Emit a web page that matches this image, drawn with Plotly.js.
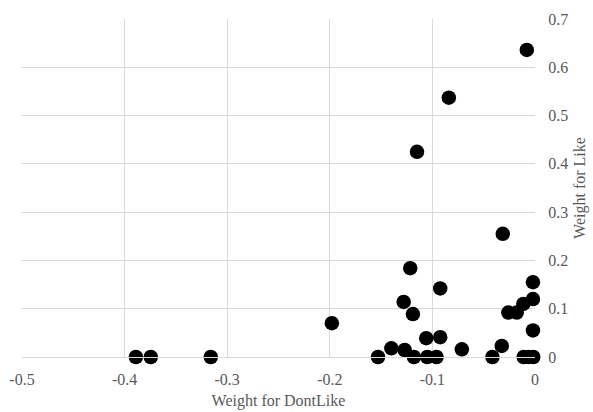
<!DOCTYPE html>
<html>
<head>
<meta charset="utf-8">
<script src="https://cdn.plot.ly/plotly-3.0.1.min.js"></script>
<style>html,body{margin:0;padding:0;background:#fff;}#chart{width:593px;height:412px;}</style>
</head>
<body>
<div id="chart"></div>
<script>
const dontLike = [-0.389, -0.3745, -0.316, -0.198, -0.153, -0.140, -0.127, -0.128, -0.1216, -0.119, -0.118, -0.115,
  -0.106, -0.105, -0.096, -0.0924, -0.0924, -0.084, -0.0713, -0.0415, -0.0324, -0.0314, -0.026, -0.0178, -0.0114,
  -0.011, -0.008, -0.0065, -0.002, -0.002, -0.002, -0.0017];
const like = [0, 0, 0, 0.070, 0, 0.018, 0.0145, 0.114, 0.184, 0.089, 0, 0.425,
  0.039, 0, 0, 0.041, 0.142, 0.537, 0.016, 0, 0.023, 0.255, 0.092, 0.092, 0.110,
  0, 0.636, 0, 0.155, 0.120, 0.055, 0];

const xTicks = [-0.5, -0.4, -0.3, -0.2, -0.1, 0];
const xTickText = ['-0.5', '-0.4', '-0.3', '-0.2', '-0.1', '0'];
const yTicks = [0, 0.1, 0.2, 0.3, 0.4, 0.5, 0.6, 0.7];
const yTickText = ['0', '0.1', '0.2', '0.3', '0.4', '0.5', '0.6', '0.7'];

const font = {family: "'Liberation Serif', 'Times New Roman', serif", size: 16, color: '#595959'};

Plotly.newPlot('chart', [{
  x: dontLike, y: like, type: 'scatter', mode: 'markers',
  marker: {size: 14.5, color: '#000000', line: {width: 0}}, cliponaxis: false, hoverinfo: 'none'
}], {
  width: 593, height: 412,
  margin: {l: 22, r: 58, t: 19, b: 55},
  paper_bgcolor: '#ffffff', plot_bgcolor: '#ffffff',
  font: font,
  showlegend: false,
  xaxis: {
    range: [-0.5, 0], tickvals: xTicks, ticktext: xTickText,
    showgrid: true, gridcolor: '#d9d9d9', gridwidth: 1,
    zeroline: false, showline: true, linecolor: '#d9d9d9', linewidth: 1,
    ticks: 'outside', ticklen: 8, tickcolor: 'rgba(0,0,0,0)',
    tickfont: font,
    title: {text: 'Weight for DontLike', font: font, standoff: 7}
  },
  yaxis: {
    range: [0, 0.7], side: 'right', tickvals: yTicks, ticktext: yTickText,
    showgrid: true, gridcolor: '#d9d9d9', gridwidth: 1,
    zeroline: false, showline: false,
    ticks: 'outside', ticklen: 9, tickcolor: 'rgba(0,0,0,0)',
    tickfont: font,
    title: {text: 'Weight for Like', font: font, standoff: 6}
  }
}, {displayModeBar: false, staticPlot: true});
</script>
</body>
</html>
